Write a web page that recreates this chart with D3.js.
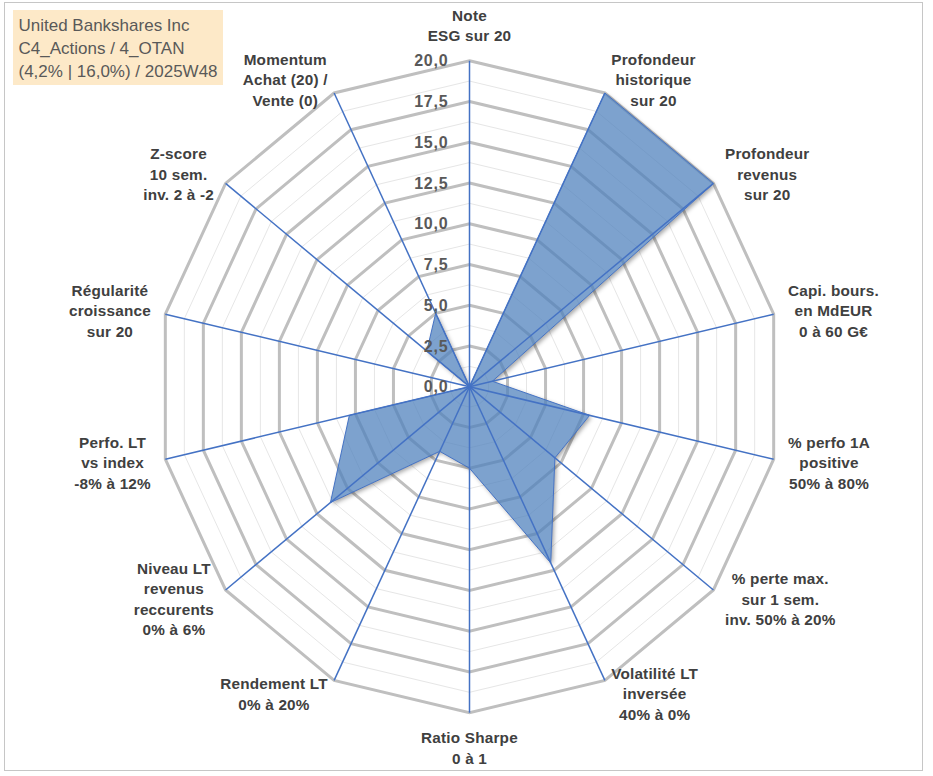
<!DOCTYPE html>
<html>

<head>
    <meta charset="utf-8">
    <title>Radar United Bankshares</title>
    <style>
        body { margin: 0; background: #fff; }
        text { font-family: "Liberation Sans", Arial, sans-serif; }
    </style>
</head>

<body>
    <script src="https://d3js.org/d3.v7.min.js"></script>
    <script>
        // axes, clockwise from the top
        let categories = [
            ["Note", "ESG sur 20"],
            ["Profondeur", "historique", "sur 20"],
            ["Profondeur", "revenus", "sur 20"],
            ["Capi. bours.", "en MdEUR", "0 à 60 G€"],
            ["% perfo 1A", "positive", "50% à 80%"],
            ["% perte max.", "sur 1 sem.", "inv. 50% à 20%"],
            ["Volatilité LT", "inversée", "40% à 0%"],
            ["Ratio Sharpe", "0 à 1"],
            ["Rendement LT", "0% à 20%"],
            ["Niveau LT", "revenus", "reccurents", "0% à 6%"],
            ["Perfo. LT", "vs index", "-8% à 12%"],
            ["Régularité", "croissance", "sur 20"],
            ["Z-score", "10 sem.", "inv. 2 à -2"],
            ["Momentum", "Achat (20) /", "Vente (0)"]
        ];
        let values = [0, 20, 20, 1.5, 7.9, 7.0, 12.0, 5.0, 4.4, 11.4, 7.9, 0, 3.5, 5.0];
        let majorTicks = [0, 2.5, 5, 7.5, 10, 12.5, 15, 17.5, 20];
        let minorTicks = [1.25, 3.75, 6.25, 8.75, 11.25, 13.75, 16.25, 18.75];
        let titleLines = ["United Bankshares Inc", "C4_Actions / 4_OTAN", "(4,2% | 16,0%) / 2025W48"];

        let width = 933, height = 776;
        let cx = 469.5, cy = 386.7;
        let rx = 312, ry = 326;
        let n = categories.length;
        let lineH = 20.5;

        let svg = d3.select("body").append("svg")
            .attr("width", width)
            .attr("height", height);

        // shadow only outside the shape, so it does not darken the see-through fill
        let defs = svg.append("defs");
        let shadow = defs.append("filter").attr("id", "shadow")
            .attr("x", "-10%").attr("y", "-10%").attr("width", "130%").attr("height", "130%");
        shadow.append("feGaussianBlur").attr("in", "SourceAlpha").attr("stdDeviation", 2).attr("result", "blur");
        shadow.append("feOffset").attr("in", "blur").attr("dx", 2).attr("dy", 2).attr("result", "off");
        shadow.append("feComposite").attr("in", "off").attr("in2", "SourceAlpha").attr("operator", "out").attr("result", "outside");
        shadow.append("feFlood").attr("flood-color", "#000").attr("flood-opacity", 0.35).attr("result", "col");
        shadow.append("feComposite").attr("in", "col").attr("in2", "outside").attr("operator", "in");

        svg.append("rect")
            .attr("x", 4.5).attr("y", 2.5)
            .attr("width", 918).attr("height", 768)
            .attr("fill", "#fff")
            .attr("stroke", "#c6c6c6");

        let sx = d3.scaleLinear().domain([0, 20]).range([0, rx]);
        let sy = d3.scaleLinear().domain([0, 20]).range([0, ry]);
        let angle = d3.scaleLinear().domain([0, n]).range([0, 2 * Math.PI]);

        function pt(i, v) {
            let a = angle(i);
            return [cx + sx(v) * Math.sin(a), cy - sy(v) * Math.cos(a)];
        }

        let ringLine = d3.line().curve(d3.curveLinearClosed);

        function ring(v) {
            return ringLine(d3.range(n).map(function(i) { return pt(i, v); }));
        }

        svg.append("g").selectAll("path")
            .data(minorTicks)
            .enter()
            .append("path")
            .attr("d", ring)
            .attr("fill", "none")
            .attr("stroke", "#e6e6e6")
            .attr("stroke-width", 1);

        svg.append("g").selectAll("path")
            .data(majorTicks.filter(function(t) { return t > 0; }))
            .enter()
            .append("path")
            .attr("d", ring)
            .attr("fill", "none")
            .attr("stroke", "#bfbfbf")
            .attr("stroke-width", 3)
            .attr("stroke-linejoin", "miter");

        // the series
        let seriesPts = values.map(function(v, i) { return pt(i, v); });
        svg.append("path")
            .datum(seriesPts)
            .attr("d", ringLine)
            .attr("fill", "#000")
            .attr("filter", "url(#shadow)");
        svg.append("path")
            .datum(seriesPts)
            .attr("d", ringLine)
            .attr("fill", "#4f81bd")
            .attr("fill-opacity", 0.74)
            .attr("stroke", "#4472c4")
            .attr("stroke-width", 1)
            .attr("stroke-linejoin", "round");

        // spokes
        svg.append("g").selectAll("line")
            .data(d3.range(n))
            .enter()
            .append("line")
            .attr("x1", cx).attr("y1", cy)
            .attr("x2", function(i) { return pt(i, 20)[0]; })
            .attr("y2", function(i) { return pt(i, 20)[1]; })
            .attr("stroke", "#4472c4")
            .attr("stroke-width", 1.5);

        // value labels on the top axis
        svg.append("g").selectAll("text")
            .data(majorTicks)
            .enter()
            .append("text")
            .attr("x", cx - 21)
            .attr("y", function(t) { return cy - sy(t); })
            .attr("dy", "0.36em")
            .attr("text-anchor", "end")
            .attr("font-size", 16)
            .attr("font-weight", "bold")
            .attr("letter-spacing", 0.8)
            .attr("fill", "#595959")
            .text(function(t) { return d3.format(".1f")(t).replace(".", ","); });

        // category labels, placed outside the outer ring
        let labels = svg.append("g").selectAll("text")
            .data(categories)
            .enter()
            .append("text")
            .attr("font-size", 15.3)
            .attr("font-weight", "bold")
            .attr("letter-spacing", 0.2)
            .attr("fill", "#404040")
            .attr("text-anchor", "middle");

        labels.each(function(lines, i) {
            let t = d3.select(this);
            lines.forEach(function(s) {
                t.append("tspan").text(s);
            });
            let w = d3.max(t.selectAll("tspan").nodes(), function(node) {
                return node.getComputedTextLength();
            });
            let h = lines.length * lineH;
            let a = angle(i);
            let s = Math.sin(a), c = Math.cos(a);
            let q = pt(i, 20);
            let qx = q[0] + 14.8 * s, qy = q[1] - 14.8 * c;
            let bx, by;
            if (Math.abs(s) < 0.01) {
                bx = qx;
                by = c > 0 ? qy - h / 2 : qy + h / 2;
            } else {
                bx = s > 0 ? qx + w / 2 : qx - w / 2;
                by = qy;
            }
            t.selectAll("tspan")
                .attr("x", bx)
                .attr("y", function(d, k) { return by - h / 2 + lineH / 2 + k * lineH; })
                .attr("dy", "0.36em");
        });

        // title box
        let title = svg.append("g");
        title.append("rect")
            .attr("x", 13).attr("y", 10)
            .attr("width", 210).attr("height", 75)
            .attr("fill", "#fde9c8");
        title.selectAll("text")
            .data(titleLines)
            .enter()
            .append("text")
            .attr("x", 18.5)
            .attr("y", function(d, i) { return 30.5 + i * 23.4; })
            .attr("font-size", 17)
            .attr("fill", "#595959")
            .text(function(d) { return d; });
    </script>
</body>

</html>
